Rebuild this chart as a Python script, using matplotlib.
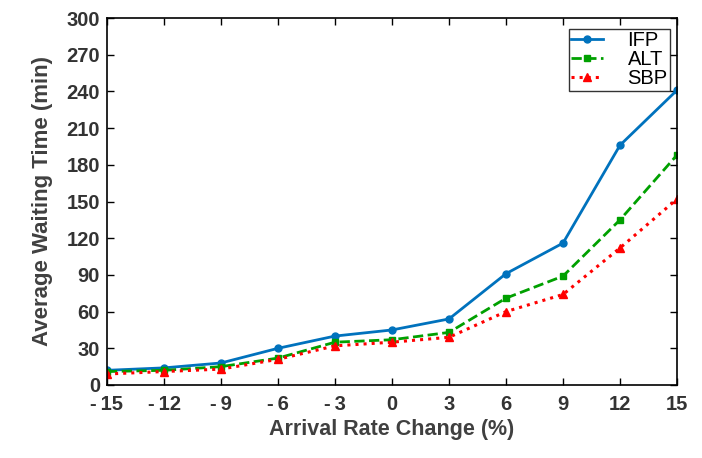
import matplotlib
matplotlib.use("Agg")
import matplotlib.pyplot as plt

rate_change = [-15, -12, -9, -6, -3, 0, 3, 6, 9, 12, 15]
ifp = [12, 14, 18, 30, 40, 45, 54, 91, 116, 196, 241]
alt = [11, 12, 15, 22, 35, 37, 43, 71, 89, 135, 188]
sbp = [9, 11, 13, 21, 32, 35, 39, 60, 74, 112, 152]
x_labels = ['-\u200915', '-\u200912', '-\u20099', '-\u20096', '-\u20093',
            '0', '3', '6', '9', '12', '15']
y_ticks = list(range(0, 301, 30))

plt.rcParams['font.family'] = ['Liberation Sans', 'DejaVu Sans']

fig = plt.figure(figsize=(7.02, 4.58), dpi=100)
ax = fig.add_axes([107 / 702, 1 - 385 / 458, 570 / 702, 367 / 458])

ax.plot(rate_change, ifp, '-', color='#0072BD', lw=2.0, marker='o', ms=5, label='IFP')
ax.plot(rate_change, alt, '--', color='#00A000', lw=2.0, marker='s', ms=4.5, label='ALT')
ax.plot(rate_change, sbp, ':', color='#FF0000', lw=2.2, marker='^', ms=6, label='SBP')

ax.set_xlim(-15, 15)
ax.set_ylim(0, 300)
ax.set_xticks(rate_change)
ax.set_xticklabels(x_labels)
ax.set_yticks(y_ticks)
ax.tick_params(direction='in', top=True, right=True, length=5, width=1,
               labelsize=14.5, labelcolor='#333333', pad=5)
ax.tick_params(axis='x', pad=7)
for lab in ax.get_xticklabels() + ax.get_yticklabels():
    lab.set_fontweight('bold')
for sp in ax.spines.values():
    sp.set_linewidth(1.2)

ax.set_xlabel('Arrival Rate Change (%)', fontsize=15.5, fontweight='bold',
              color='#404040', labelpad=4)
ax.set_ylabel('Average Waiting Time (min)', fontsize=16, fontweight='bold',
              color='#404040', labelpad=10)

leg = ax.legend(loc='upper right', fontsize=14.5, frameon=True, fancybox=False,
                edgecolor='black', handlelength=1.6, borderpad=0.12,
                labelspacing=0.0, handletextpad=1.2, borderaxespad=0,
                bbox_to_anchor=(0.988, 0.970))
leg.get_frame().set_linewidth(1.0)

fig.savefig('out.png', dpi=100)
